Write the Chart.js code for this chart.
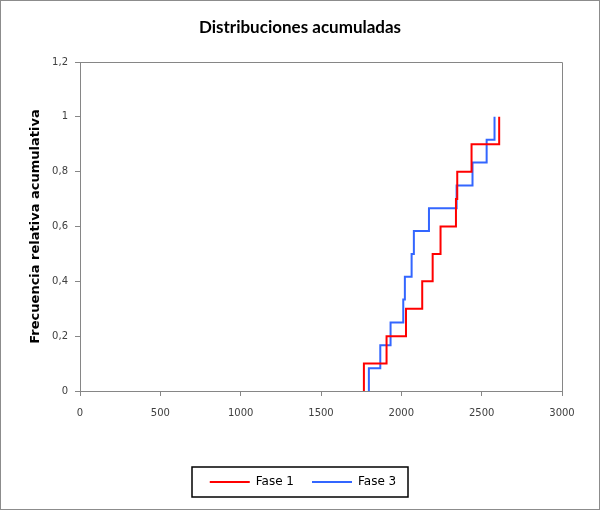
<!DOCTYPE html>
<html>
<head>
<meta charset="utf-8">
<script src="https://cdn.jsdelivr.net/npm/chart.js@4.4.1/dist/chart.umd.min.js"></script>
<style>
    body { margin: 0; background: #fff; }
</style>
</head>
<body>
<canvas id="cdfChart" width="600" height="510"></canvas>
<script>
// values
const fase1X = [1767, 1908, 2029, 2130, 2195, 2244, 2340, 2348, 2437, 2609];
const fase1Y = [0.1, 0.2, 0.3, 0.4, 0.5, 0.6, 0.7, 0.8, 0.9, 1.0];
const fase3X = [1798, 1869, 1933, 2012, 2022, 2064, 2078, 2172, 2344, 2443, 2531, 2580];
const fase3Y = [0.0833, 0.1667, 0.25, 0.3333, 0.4167, 0.5, 0.5833, 0.6667, 0.75, 0.8333, 0.9167, 1.0];
const xTicks = [0, 500, 1000, 1500, 2000, 2500, 3000];
const yTicks = [0, 0.2, 0.4, 0.6, 0.8, 1, 1.2];
const chartTitle = 'Distribuciones acumuladas';

const axisGray = '#868686';
const tickFont = { family: 'DejaVu Sans', size: 10 };

function toPoints(xs, ys) {
    // start at zero on the first x, then step up
    let pts = [{ x: xs[0], y: 0 }];
    xs.forEach((x, i) => { pts.push({ x: x, y: ys[i] }); });
    return pts;
}

function fmtComma(v) {
    return String(Math.round(v * 10) / 10).replace('.', ',');
}

const framePlugin = {
    id: 'framePlugin',
    afterLayout(chart) {
        // legend box is a little right of centre in the original
        chart.legend.left += 3;
        chart.legend.right += 3;
    },
    beforeDraw(chart) {
        const ctx = chart.ctx;
        ctx.save();
        ctx.fillStyle = '#fff';
        ctx.fillRect(0, 0, chart.width, chart.height);
        ctx.restore();
    },
    afterDraw(chart) {
        const ctx = chart.ctx;
        const a = chart.chartArea;
        ctx.save();
        ctx.fillStyle = '#000';
        ctx.font = 'bold 17px Lato';
        ctx.textAlign = 'center';
        ctx.textBaseline = 'alphabetic';
        ctx.fillText(chartTitle, 300, 33);
        // plot area border (top + right)
        ctx.strokeStyle = axisGray;
        ctx.lineWidth = 1;
        ctx.beginPath();
        ctx.moveTo(Math.round(a.left) + 0.5, Math.round(a.top) + 0.5);
        ctx.lineTo(Math.round(a.right) + 0.5, Math.round(a.top) + 0.5);
        ctx.lineTo(Math.round(a.right) + 0.5, Math.round(a.bottom) + 0.5);
        ctx.stroke();
        // outer chart border
        ctx.strokeStyle = '#8c8c8c';
        ctx.strokeRect(0.5, 0.5, chart.width - 1, chart.height - 1);
        // legend box
        const boxes = chart.legend.legendHitBoxes;
        if (boxes && boxes.length) {
            const left = Math.min(...boxes.map(b => b.left)) - 18;
            const right = Math.max(...boxes.map(b => b.left + b.width)) + 12;
            const top = Math.min(...boxes.map(b => b.top)) - 9;
            const bottom = Math.max(...boxes.map(b => b.top + b.height)) + 9;
            ctx.strokeStyle = '#000';
            ctx.lineWidth = 1.5;
            ctx.strokeRect(Math.round(left), Math.round(top), Math.round(right - left), Math.round(bottom - top));
        }
        ctx.restore();
    }
};

const ctx = document.getElementById('cdfChart').getContext('2d');
const chartCdf = new Chart(ctx, {
    type: 'scatter',
    data: {
        datasets: [{
            label: 'Fase 1',
            data: toPoints(fase1X, fase1Y),
            borderColor: '#ff0000',
            backgroundColor: '#ff0000',
            borderWidth: 2,
            showLine: true,
            stepped: 'before',
            pointRadius: 0
        },
        {
            label: 'Fase 3',
            data: toPoints(fase3X, fase3Y),
            borderColor: '#3366ff',
            backgroundColor: '#3366ff',
            borderWidth: 2,
            showLine: true,
            stepped: 'before',
            pointRadius: 0
        }]
    },
    options: {
        responsive: false,
        animation: false,
        layout: {
            padding: { top: 62, left: 38, right: 38, bottom: 12 }
        },
        plugins: {
            title: { display: false },
            legend: {
                position: 'bottom',
                labels: {
                    color: '#000',
                    font: { family: 'DejaVu Sans', size: 12 },
                    usePointStyle: true,
                    pointStyle: 'line',
                    pointStyleWidth: 40,
                    boxWidth: 40,
                    padding: 18
                }
            },
            tooltip: { enabled: false }
        },
        scales: {
            x: {
                type: 'linear',
                min: 0,
                max: 3000,
                afterBuildTicks: scale => { scale.ticks = xTicks.map(v => ({ value: v })); },
                afterFit: scale => { scale.height = 67; },
                grid: { drawOnChartArea: false, color: axisGray, tickLength: 5 },
                border: { color: axisGray },
                ticks: {
                    color: '#404040',
                    font: tickFont,
                    padding: 11,
                    maxRotation: 0,
                    callback: v => String(v)
                }
            },
            y: {
                type: 'linear',
                min: 0,
                max: 1.2,
                afterBuildTicks: scale => { scale.ticks = yTicks.map(v => ({ value: v })); },
                afterFit: scale => { scale.width = 42; },
                grid: { drawOnChartArea: false, color: axisGray, tickLength: 5 },
                border: { color: axisGray },
                title: {
                    display: true,
                    text: 'Frecuencia relativa acumulativa',
                    color: '#000',
                    font: { family: 'DejaVu Sans', size: 13, weight: 'bold' },
                    padding: { top: -10, bottom: 0 }
                },
                ticks: {
                    color: '#404040',
                    font: tickFont,
                    padding: 7,
                    callback: v => fmtComma(v)
                }
            }
        }
    },
    plugins: [framePlugin]
});
</script>
</body>
</html>
